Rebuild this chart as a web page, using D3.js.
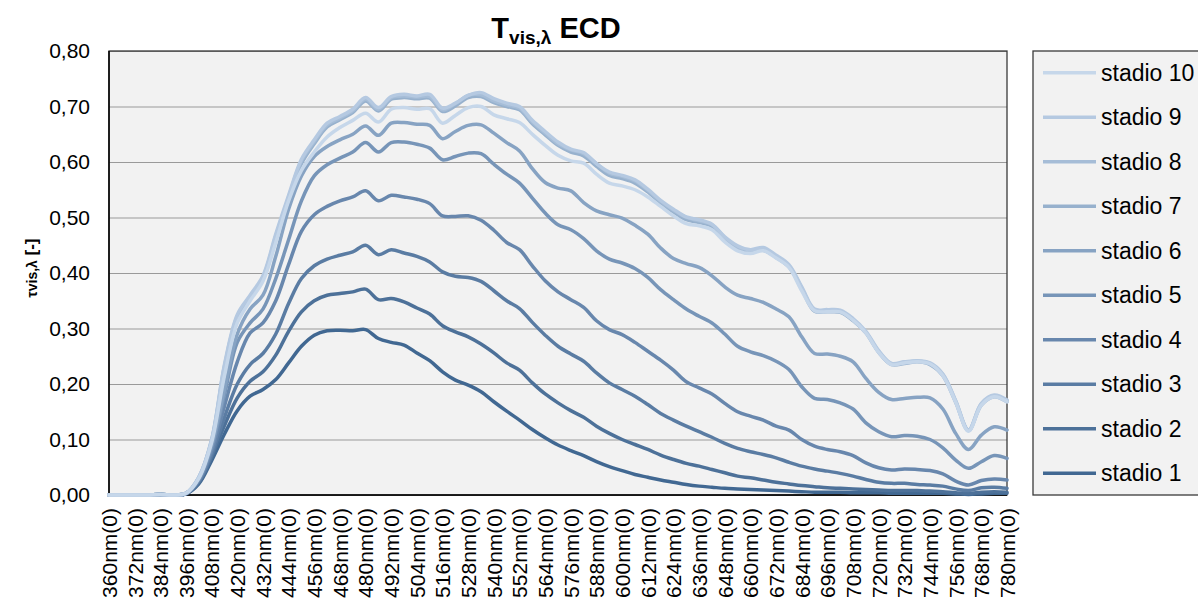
<!DOCTYPE html>
<html>
<head>
<meta charset="utf-8">
<script src="https://cdn.jsdelivr.net/npm/d3@7"></script>
<style>
body { margin: 0; background: #fff; }
svg { display: block; font-family: "Liberation Sans", Arial, sans-serif; }
.grid line { stroke: #9a9a9a; stroke-width: 1.2; }
.grid path { display: none; }
.yAxis text, .xAxis text { fill: #000; }
.yAxis path, .xAxis path { display: none; }
.series { fill: none; stroke-width: 3.5; stroke-linejoin: round; stroke-linecap: round; }
</style>
</head>
<body>
<script>
//wavelength categories (nm), one every 6 nm
var wavelengths = [360,366,372,378,384,390,396,402,408,414,420,426,432,438,444,450,456,462,468,474,
	480,486,492,498,504,510,516,522,528,534,540,546,552,558,564,570,576,582,588,594,
	600,606,612,618,624,630,636,642,648,654,660,666,672,678,684,690,696,702,708,714,
	720,726,732,738,744,750,756,762,768,774,780];

//category labels shown on the x axis
var xTicks = [360,372,384,396,408,420,432,444,456,468,480,492,504,516,528,540,552,564,576,588,
	600,612,624,636,648,660,672,684,696,708,720,732,744,756,768,780];

var yTicks = [0,0.1,0.2,0.3,0.4,0.5,0.6,0.7,0.8];

var seriesNames = ["stadio 1","stadio 2","stadio 3","stadio 4","stadio 5",
	"stadio 6","stadio 7","stadio 8","stadio 9","stadio 10"];

var seriesColors = ["#416892","#4d7199","#5a7ca3","#6887ad","#7795b8",
	"#87a3c3","#97b1cd","#a6bdd7","#b5c9e1","#c6d7ea"];

//transmittance values
var stadio1 = [0,0,0,0,0.001,0,0.002,
	0.02,0.062,0.11,0.152,0.178,0.19,0.208,0.238,0.268,0.288,0.296,0.297,0.296,0.298,
	0.282,0.275,0.27,0.256,0.242,0.222,0.207,0.198,0.186,0.168,0.151,0.135,0.118,0.103,
	0.09,0.08,0.071,0.06,0.051,0.044,0.037,0.032,0.027,0.023,0.019,0.016,0.014,0.012,
	0.011,0.01,0.009,0.008,0.007,0.006,0.005,0.005,0.005,0.004,0.004,0.004,0.003,0.003,
	0.003,0.003,0.003,0.002,0.001,0.002,0.003,0.003];
var stadio2 = [0,0,0,0,0.001,0,0.002,
	0.022,0.068,0.125,0.175,0.205,0.222,0.252,0.295,0.33,0.35,0.36,0.363,0.366,0.371,
	0.352,0.354,0.348,0.337,0.326,0.305,0.294,0.285,0.272,0.256,0.238,0.225,0.202,0.182,
	0.166,0.152,0.14,0.124,0.111,0.1,0.091,0.082,0.072,0.064,0.057,0.052,0.046,0.04,
	0.034,0.031,0.027,0.023,0.02,0.017,0.015,0.013,0.012,0.011,0.01,0.009,0.008,0.008,
	0.008,0.007,0.006,0.004,0.003,0.005,0.006,0.005];
var stadio3 = [0,0,0,0,0.001,0,0.002,
	0.024,0.072,0.14,0.2,0.235,0.255,0.29,0.345,0.39,0.413,0.425,0.432,0.438,0.45,
	0.433,0.442,0.436,0.43,0.42,0.402,0.394,0.392,0.385,0.368,0.35,0.336,0.311,0.288,
	0.268,0.254,0.241,0.22,0.202,0.19,0.178,0.163,0.147,0.135,0.124,0.114,0.104,0.093,
	0.084,0.078,0.073,0.067,0.059,0.052,0.047,0.043,0.039,0.034,0.028,0.023,0.021,0.021,
	0.019,0.018,0.016,0.011,0.008,0.013,0.014,0.012];
var stadio4 = [0,0,0,0,0.001,0,0.003,
	0.026,0.078,0.16,0.24,0.292,0.31,0.35,0.415,0.475,0.505,0.52,0.53,0.537,0.548,
	0.53,0.54,0.537,0.533,0.525,0.503,0.502,0.503,0.495,0.477,0.455,0.442,0.413,0.386,
	0.366,0.352,0.338,0.314,0.298,0.289,0.275,0.259,0.243,0.225,0.204,0.193,0.182,0.165,
	0.15,0.142,0.135,0.124,0.117,0.1,0.088,0.082,0.078,0.071,0.058,0.049,0.045,0.047,
	0.046,0.044,0.038,0.025,0.018,0.026,0.029,0.027];
var stadio5 = [0,0,0,0,0.001,0,0.003,
	0.028,0.085,0.18,0.275,0.31,0.335,0.39,0.46,0.53,0.575,0.595,0.607,0.618,0.635,
	0.618,0.635,0.636,0.632,0.625,0.604,0.61,0.616,0.615,0.596,0.578,0.562,0.535,0.508,
	0.487,0.478,0.462,0.44,0.425,0.418,0.408,0.392,0.37,0.352,0.335,0.322,0.31,0.29,
	0.268,0.258,0.251,0.241,0.226,0.195,0.174,0.172,0.166,0.155,0.13,0.114,0.105,0.107,
	0.106,0.1,0.085,0.063,0.048,0.06,0.071,0.066];
var stadio6 = [0,0,0,0,0.001,0,0.003,
	0.03,0.09,0.19,0.29,0.335,0.36,0.43,0.515,0.575,0.61,0.628,0.64,0.65,0.665,
	0.648,0.67,0.671,0.668,0.666,0.642,0.655,0.666,0.667,0.652,0.635,0.62,0.588,0.563,
	0.553,0.548,0.527,0.512,0.505,0.499,0.486,0.47,0.445,0.426,0.417,0.41,0.395,0.375,
	0.36,0.354,0.347,0.335,0.321,0.285,0.255,0.254,0.25,0.24,0.21,0.185,0.172,0.174,
	0.176,0.175,0.155,0.111,0.082,0.108,0.123,0.117];
var stadio7 = [0,0,0,0,0.001,0,0.003,
	0.031,0.097,0.228,0.318,0.354,0.389,0.462,0.532,0.597,0.633,0.663,0.676,0.689,0.71,
	0.692,0.713,0.716,0.714,0.715,0.691,0.701,0.716,0.718,0.707,0.7,0.694,0.669,0.649,
	0.63,0.618,0.611,0.592,0.576,0.57,0.562,0.546,0.526,0.51,0.496,0.491,0.484,0.461,
	0.444,0.438,0.441,0.428,0.411,0.371,0.331,0.33,0.329,0.314,0.292,0.257,0.235,0.237,
	0.24,0.235,0.215,0.167,0.116,0.162,0.177,0.168];
var stadio8 = [0,0,0,0,0.001,0,0.003,
	0.032,0.099,0.232,0.322,0.358,0.392,0.467,0.537,0.602,0.637,0.667,0.679,0.692,0.713,
	0.695,0.716,0.719,0.717,0.718,0.694,0.705,0.72,0.721,0.71,0.703,0.697,0.672,0.652,
	0.633,0.622,0.615,0.597,0.58,0.574,0.566,0.549,0.529,0.513,0.5,0.494,0.487,0.464,
	0.446,0.44,0.444,0.43,0.413,0.373,0.333,0.332,0.331,0.316,0.293,0.259,0.236,0.239,
	0.241,0.237,0.217,0.169,0.117,0.164,0.179,0.17];
var stadio9 = [0,0,0,0,0.001,0,0.003,
	0.032,0.1,0.235,0.325,0.36,0.395,0.47,0.54,0.605,0.64,0.67,0.682,0.695,0.716,
	0.698,0.718,0.722,0.719,0.722,0.697,0.706,0.72,0.725,0.714,0.706,0.7,0.675,0.655,
	0.636,0.623,0.617,0.597,0.582,0.576,0.568,0.551,0.531,0.515,0.501,0.496,0.488,0.465,
	0.449,0.442,0.446,0.432,0.415,0.375,0.335,0.334,0.333,0.318,0.295,0.26,0.237,0.24,
	0.242,0.238,0.218,0.17,0.117,0.165,0.18,0.171];
var stadio10 = [0,0,0,0,0.001,0,0.003,
	0.03,0.095,0.215,0.31,0.35,0.385,0.455,0.53,0.585,0.618,0.645,0.662,0.675,0.688,
	0.672,0.695,0.698,0.695,0.696,0.67,0.684,0.698,0.7,0.685,0.678,0.671,0.65,0.63,
	0.612,0.602,0.598,0.578,0.562,0.557,0.55,0.537,0.52,0.503,0.489,0.485,0.478,0.456,
	0.44,0.435,0.44,0.427,0.41,0.368,0.332,0.33,0.33,0.315,0.292,0.257,0.235,0.238,
	0.24,0.236,0.215,0.167,0.115,0.162,0.177,0.168];

var seriesValues = [stadio1,stadio2,stadio3,stadio4,stadio5,stadio6,stadio7,stadio8,stadio9,stadio10];

window.onload = drawChart();

function drawChart(){
	var width = 1198, height = 598;
	var plotLeft = 109, plotTop = 51, plotRight = 1007, plotBottom = 495;

	var svg = d3.select("body")
		.append("svg")
		.attr("width", width)
		.attr("height", height);

	//scales
	var x = d3.scaleLinear()
		.domain([d3.min(wavelengths), d3.max(wavelengths)])
		.range([plotLeft, plotRight]);
	var y = d3.scaleLinear()
		.domain([0, 0.8])
		.range([plotBottom, plotTop]);

	//plot background
	svg.append("rect")
		.attr("x", plotLeft)
		.attr("y", plotTop)
		.attr("width", plotRight - plotLeft)
		.attr("height", plotBottom - plotTop)
		.attr("fill", "#f2f2f2");

	//horizontal gridlines
	svg.append("g")
		.attr("class", "grid")
		.attr("transform", "translate(" + plotLeft + ",0)")
		.call(d3.axisLeft(y).tickValues(yTicks).tickSize(-(plotRight - plotLeft)).tickFormat(""));

	//frame
	svg.append("rect")
		.attr("x", plotLeft)
		.attr("y", plotTop)
		.attr("width", plotRight - plotLeft)
		.attr("height", plotBottom - plotTop)
		.attr("fill", "none")
		.attr("stroke", "#3a3a3a")
		.attr("stroke-width", 1.3);

	//y axis labels
	var yFormat = function(d){ return d3.format(".2f")(d).replace(".", ","); };
	svg.append("g")
		.attr("class", "yAxis")
		.attr("transform", "translate(" + plotLeft + ",0)")
		.call(d3.axisLeft(y).tickValues(yTicks).tickSize(0).tickPadding(19).tickFormat(yFormat))
		.selectAll("text")
		.style("font-size", "21px")
		.style("font-family", "'Liberation Sans', Arial, sans-serif");

	//x axis labels, rotated
	var xAxis = svg.append("g")
		.attr("class", "xAxis")
		.attr("transform", "translate(0," + plotBottom + ")")
		.call(d3.axisBottom(x).tickValues(xTicks).tickSize(0).tickFormat(function(d){ return d + "nm(0)"; }));
	xAxis.selectAll("text")
		.style("font-size", "21px")
		.style("font-family", "'Liberation Sans', Arial, sans-serif")
		.attr("text-anchor", "end")
		.attr("transform", "rotate(-90)")
		.attr("x", -13)
		.attr("y", 0)
		.attr("dy", "0.35em");

	//axis lines
	svg.append("line")
		.attr("x1", plotLeft).attr("x2", plotLeft)
		.attr("y1", plotTop).attr("y2", plotBottom)
		.attr("stroke", "#000").attr("stroke-width", 1.5);
	svg.append("line")
		.attr("x1", plotLeft).attr("x2", plotRight)
		.attr("y1", plotBottom).attr("y2", plotBottom)
		.attr("stroke", "#000").attr("stroke-width", 1.5);

	//lines, smoothed like the spreadsheet original
	var line = d3.line()
		.x(function(d, i){ return x(wavelengths[i]); })
		.y(function(d){ return y(d); })
		.curve(d3.curveCatmullRom.alpha(0.5));

	svg.selectAll(".series")
		.data(seriesValues)
		.enter()
		.append("path")
		.attr("class", "series")
		.attr("d", line)
		.attr("stroke", function(d, i){ return seriesColors[i]; });

	//title
	var title = svg.append("text")
		.attr("x", 556)
		.attr("y", 38)
		.attr("text-anchor", "middle")
		.style("font-weight", "bold")
		.style("font-size", "29px");
	title.append("tspan").text("T");
	title.append("tspan").attr("dy", 6).style("font-size", "19px").text("vis,λ");
	title.append("tspan").attr("dy", -6).text(" ECD");

	//y axis title
	var yTitle = svg.append("text")
		.attr("transform", "translate(37,268) rotate(-90)")
		.attr("text-anchor", "middle")
		.style("font-weight", "bold")
		.style("font-size", "17px");
	yTitle.append("tspan").style("font-size", "14px").text("τvis,λ");
	yTitle.append("tspan").text(" [-]");

	//legend
	svg.append("rect")
		.attr("x", 1033)
		.attr("y", 51)
		.attr("width", 200)
		.attr("height", 444)
		.attr("fill", "#f2f2f2")
		.attr("stroke", "#3a3a3a")
		.attr("stroke-width", 1.3);

	var order = d3.range(seriesNames.length).reverse();
	var legendRow = svg.selectAll(".legendRow")
		.data(order)
		.enter()
		.append("g")
		.attr("class", "legendRow")
		.attr("transform", function(d, i){ return "translate(0," + (72.7 + i * 44.5) + ")"; });
	legendRow.append("line")
		.attr("x1", 1043).attr("x2", 1096)
		.attr("y1", 0).attr("y2", 0)
		.attr("stroke", function(d){ return seriesColors[d]; })
		.attr("stroke-width", 3.5);
	legendRow.append("text")
		.attr("x", 1101)
		.attr("y", 0)
		.attr("dy", "0.35em")
		.style("font-size", "23px")
		.text(function(d){ return seriesNames[d]; });
};
</script>
</body>
</html>
